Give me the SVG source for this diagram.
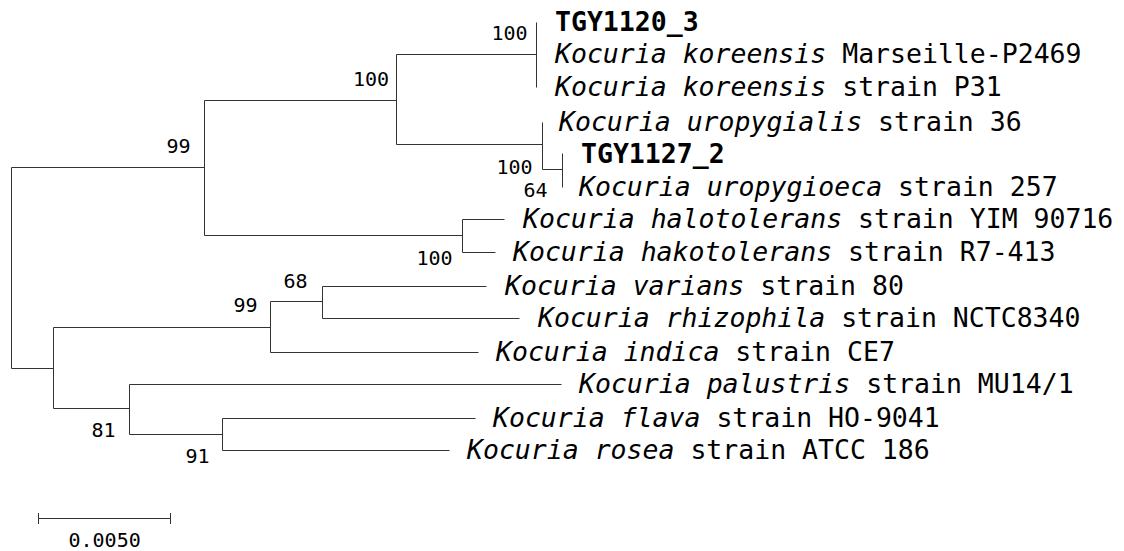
<svg xmlns="http://www.w3.org/2000/svg" width="1124" height="551" viewBox="0 0 1124 551">
  <style>
    .br { fill: none; stroke: #333; stroke-width: 1; }
    .leaf { font-family: "DejaVu Sans Mono", "Liberation Mono", monospace; font-size: 26.5px; fill: #000; }
    .leaf .sp { font-style: italic; }
    .leaf.iso { font-weight: bold; }
    .bs { font-family: "DejaVu Sans Mono", "Liberation Mono", monospace; font-size: 20px; fill: #000; }
  </style>
  <rect width="1124" height="551" fill="#fff"/>

  <!-- tree branches (rectangular cladogram) -->
  <g id="connectors" class="br" transform="translate(0.5,0.5)">
    <path d="M11,167 V368"/>
    <!-- upper clade -->
    <path d="M11,167 H204 M204,100 V235"/>
    <path d="M204,100 H396 M396,54 V144"/>
    <path d="M396,54 H536 M536,22 V87"/>
    <path d="M396,144 H542 M542,122 V169"/>
    <path d="M542,169 H562 M562,153 V187"/>
    <path d="M204,235 H462 M462,219 V252"/>
    <path d="M462,219 H504 M462,252 H495"/>
    <!-- lower clade -->
    <path d="M11,368 H53 M53,327 V408"/>
    <path d="M53,327 H270 M270,301 V352"/>
    <path d="M270,301 H322 M322,286 V318"/>
    <path d="M322,286 H486 M322,318 H519"/>
    <path d="M270,352 H478"/>
    <path d="M53,408 H129 M129,384 V434"/>
    <path d="M129,384 H561"/>
    <path d="M129,434 H222 M222,418 V450"/>
    <path d="M222,418 H475 M222,450 H449"/>
  </g>

  <!-- bootstrap support values at internal nodes -->
  <g id="node-a"><text class="bs" x="166.5" y="153">99</text></g>
  <g id="node-b"><text class="bs" x="353" y="86">100</text></g>
  <g id="node-c"><text class="bs" x="491.5" y="40">100</text></g>
  <g id="node-e"><text class="bs" x="496.5" y="174">100</text></g>
  <g id="node-e2"><text class="bs" x="523.5" y="197">64</text></g>
  <g id="node-f"><text class="bs" x="416.5" y="265">100</text></g>
  <g id="node-i"><text class="bs" x="283.5" y="288">68</text></g>
  <g id="node-h"><text class="bs" x="233.5" y="312">99</text></g>
  <g id="node-j"><text class="bs" x="91.5" y="437">81</text></g>
  <g id="node-k"><text class="bs" x="185.5" y="463">91</text></g>

  <!-- leaf labels -->
  <g id="tgy1120-3"><text class="leaf iso" x="555" y="31">TGY1120_3</text></g>
  <g id="k-koreensis-marseille"><text class="leaf" x="555" y="63"><tspan class="sp">Kocuria koreensis</tspan> Marseille-P2469</text></g>
  <g id="k-koreensis-p31"><text class="leaf" x="555" y="96"><tspan class="sp">Kocuria koreensis</tspan> strain P31</text></g>
  <g id="k-uropygialis"><text class="leaf" x="559" y="131"><tspan class="sp">Kocuria uropygialis</tspan> strain 36</text></g>
  <g id="tgy1127-2"><text class="leaf iso" x="581" y="163">TGY1127_2</text></g>
  <g id="k-uropygioeca"><text class="leaf" x="579" y="196"><tspan class="sp">Kocuria uropygioeca</tspan> strain 257</text></g>
  <g id="k-halotolerans"><text class="leaf" x="523" y="228"><tspan class="sp">Kocuria halotolerans</tspan> strain YIM 90716</text></g>
  <g id="k-hakotolerans"><text class="leaf" x="513" y="261"><tspan class="sp">Kocuria hakotolerans</tspan> strain R7-413</text></g>
  <g id="k-varians"><text class="leaf" x="505" y="295"><tspan class="sp">Kocuria varians</tspan> strain 80</text></g>
  <g id="k-rhizophila"><text class="leaf" x="538" y="327"><tspan class="sp">Kocuria rhizophila</tspan> strain NCTC8340</text></g>
  <g id="k-indica"><text class="leaf" x="496" y="361"><tspan class="sp">Kocuria indica</tspan> strain CE7</text></g>
  <g id="k-palustris"><text class="leaf" x="579" y="393"><tspan class="sp">Kocuria palustris</tspan> strain MU14/1</text></g>
  <g id="k-flava"><text class="leaf" x="493" y="427"><tspan class="sp">Kocuria flava</tspan> strain HO-9041</text></g>
  <g id="k-rosea"><text class="leaf" x="467" y="459"><tspan class="sp">Kocuria rosea</tspan> strain ATCC 186</text></g>

  <!-- scale bar -->
  <g id="scale-bar">
    <path class="br" d="M38.5,518.5 H170.5 M38.5,513 V524 M170.5,513 V524"/>
    <text class="bs" x="68.5" y="547">0.0050</text>
  </g>
</svg>
